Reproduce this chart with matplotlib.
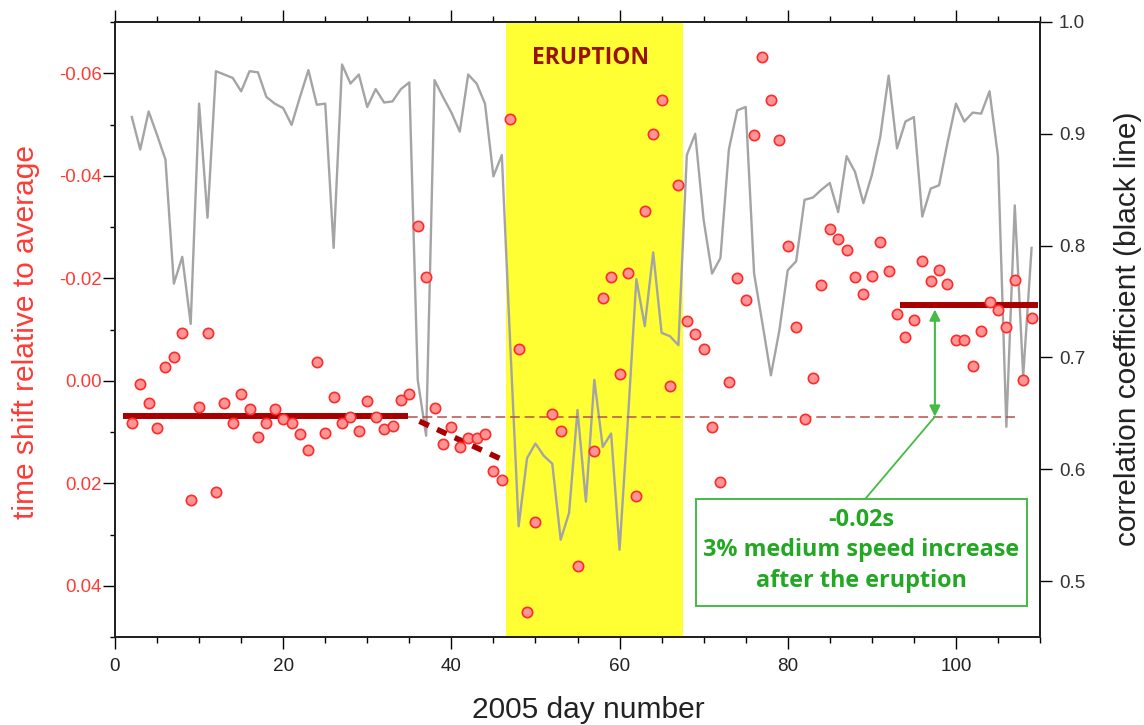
import numpy as np
import matplotlib
matplotlib.use("Agg")
import matplotlib.pyplot as plt
from matplotlib.patches import Rectangle
from matplotlib.ticker import MultipleLocator, FormatStrFormatter

plt.rcParams['font.family'] = ['Liberation Sans', 'DejaVu Sans']
plt.rcParams['axes.unicode_minus'] = False
plt.rcParams['lines.scale_dashes'] = False

# ---------------- data ----------------
days = list(range(2, 110))

corr = [0.915, 0.886, 0.920, 0.899, 0.877, 0.766, 0.790, 0.730, 0.927, 0.825,   # 2-11
        0.956, 0.953, 0.950, 0.938, 0.956, 0.955, 0.933, 0.927, 0.923, 0.908,   # 12-21
        0.933, 0.957, 0.926, 0.927, 0.798, 0.962, 0.945, 0.953, 0.924, 0.940,   # 22-31
        0.928, 0.929, 0.940, 0.946, 0.680, 0.630, 0.948, 0.933, 0.919, 0.902,   # 32-41
        0.953, 0.945, 0.927, 0.862, 0.881, 0.712, 0.549, 0.610, 0.623, 0.612,   # 42-51
        0.605, 0.537, 0.561, 0.653, 0.571, 0.680, 0.620, 0.632, 0.528, 0.645,   # 52-61
        0.770, 0.728, 0.794, 0.722, 0.719, 0.711, 0.881, 0.900, 0.823, 0.775,   # 62-71
        0.789, 0.886, 0.921, 0.924, 0.775, 0.730, 0.684, 0.724, 0.778, 0.786,   # 72-81
        0.841, 0.843, 0.850, 0.856, 0.830, 0.880, 0.866, 0.838, 0.863, 0.897,   # 82-91
        0.952, 0.887, 0.911, 0.915, 0.826, 0.851, 0.854, 0.892, 0.927, 0.911,   # 92-101
        0.919, 0.918, 0.938, 0.880, 0.638, 0.836, 0.683, 0.798]                 # 102-109

# time shift (s); None = no measurement that day
shift = [0.0082, 0.0007, 0.0044, 0.0092, -0.0027, -0.0046, -0.0094, 0.0233, 0.0051, -0.0093,   # 2-11
         0.0217, 0.0044, 0.0082, 0.0025, 0.0056, 0.0109, 0.0083, 0.0056, 0.0075, 0.0082,       # 12-21
         0.0104, 0.0135, -0.0037, 0.0101, 0.0031, 0.0083, 0.0070, 0.0098, 0.0039, 0.0070,      # 22-31
         0.0095, 0.0088, 0.0038, 0.0026, -0.0301, -0.0202, 0.0053, 0.0123, 0.0090, 0.0129,     # 32-41
         0.0111, 0.0112, 0.0104, 0.0176, 0.0194, -0.0511, -0.0062, 0.0452, 0.0275, None,       # 42-51
         0.0064, 0.0098, None, 0.0361, None, 0.0137, -0.0162, -0.0203, -0.0014, -0.0211,       # 52-61
         0.0224, -0.0331, -0.0481, -0.0548, 0.0010, -0.0382, -0.0117, -0.0091, -0.0061, 0.0091, # 62-71
         0.0197, 0.0003, -0.0200, -0.0158, -0.0480, -0.0632, -0.0548, -0.0470, -0.0263, -0.0105, # 72-81
         0.0074, -0.0005, -0.0187, -0.0297, -0.0277, -0.0256, -0.0203, -0.0169, -0.0204, -0.0271, # 82-91
         -0.0215, -0.0130, -0.0085, -0.0119, -0.0234, -0.0195, -0.0217, -0.0188, -0.0079, -0.0079, # 92-101
         -0.0029, -0.0097, -0.0154, -0.0138, -0.0104, -0.0197, -0.0001, -0.0122]                 # 102-109

pre_x = [0.9, 34.8]
pre_y = [0.0069, 0.0069]
decline_x = [36.2, 46.6]
decline_y = [0.0079, 0.0158]
post_x = [93.3, 109.8]
post_y = [-0.0147, -0.0147]
ref_x = [34.8, 107.0]
ref_y = [0.0070, 0.0070]
eruption = (46.45, 67.55)

x_ticks_major = 20
x_ticks_minor = 5

# ---------------- style ----------------
RED_TXT = '#ff3a33'
DARK_RED = '#a80000'
GREEN = '#22a822'
GREEN_BOX = '#44bb44'
GRAY = '#a4a4a4'

fig = plt.figure(figsize=(11.44, 7.25), dpi=100)
W, H = 1144, 725
L, R, T, B = 115, 1040, 22, 637
ax = fig.add_axes([L / W, (H - B) / H, (R - L) / W, (B - T) / H])
axt = ax.twinx()

# correlation axis (right) on the bottom layer
ax.axvspan(*eruption, color='#ffff33', zorder=0, lw=0)
ax.plot(days, corr, color=GRAY, lw=1.7, zorder=2)
ax.set_xlim(0, 110)
ax.set_ylim(0.45, 1.0)
ax.yaxis.tick_right()
ax.yaxis.set_label_position('right')
ax.yaxis.set_major_locator(MultipleLocator(0.1))
ax.yaxis.set_major_formatter(FormatStrFormatter('%.1f'))
ax.xaxis.set_major_locator(MultipleLocator(x_ticks_major))
ax.xaxis.set_minor_locator(MultipleLocator(x_ticks_minor))
ax.tick_params(axis='x', which='major', direction='out', length=8.6, width=1.0,
               top=True, bottom=True, labelsize=13.6, pad=6.5, labelcolor='#222222')
ax.tick_params(axis='x', which='minor', direction='out', length=4.3, width=1.0,
               top=True, bottom=True)
ax.tick_params(axis='y', which='major', direction='out', length=8.6, width=1.0,
               right=True, left=False, labelright=True, labelleft=False,
               labelsize=13.6, pad=5, labelcolor='#333333')

# time shift axis (left) on top
axt.yaxis.tick_left()
axt.yaxis.set_label_position('left')
axt.set_ylim(0.05, -0.07)
axt.yaxis.set_major_locator(MultipleLocator(0.02))
axt.yaxis.set_minor_locator(MultipleLocator(0.01))
axt.yaxis.set_major_formatter(FormatStrFormatter('%.2f'))
axt.tick_params(axis='y', which='major', direction='out', length=8.6, width=1.0,
                left=True, right=False, labelleft=True, labelright=False,
                labelsize=13.4, pad=1, labelcolor=RED_TXT)
axt.tick_params(axis='y', which='minor', direction='out', length=3.8, width=1.0,
                left=True, right=False)

for a in (ax, axt):
    for s in a.spines.values():
        s.set_linewidth(1.4)
        s.set_color('#222222')

axt.plot(ref_x, ref_y, color='#b8504a', lw=1.1, dashes=(7, 3.5), zorder=3)
axt.plot(pre_x, pre_y, color=DARK_RED, lw=4.3, solid_capstyle='butt', zorder=4)
axt.plot(decline_x, decline_y, color=DARK_RED, lw=4.0, dashes=(7.5, 6.5),
         dash_capstyle='butt', zorder=4)
axt.plot(post_x, post_y, color=DARK_RED, lw=4.3, solid_capstyle='butt', zorder=4)

sd = [d for d, v in zip(days, shift) if v is not None]
sv = [v for v in shift if v is not None]
axt.plot(sd, sv, ls='none', marker='o', ms=7.4, mfc='#ff9494', mec='#ff2a2a',
         mew=1.2, zorder=6)

# eruption label
axt.text(56.5, -0.0618, 'ERUPTION', ha='center', va='baseline', color='#991100',
         fontsize=16.5, fontweight='bold', family=['Open Sans', 'DejaVu Sans'], zorder=7)

# annotation
axt.annotate('', xy=(97.5, -0.0139), xytext=(97.5, 0.0070),
             arrowprops=dict(arrowstyle='<|-|>', color=GREEN_BOX, lw=1.5,
                             mutation_scale=16, shrinkA=0, shrinkB=0), zorder=7)
axt.plot([97.5, 89.18], [0.0070, 0.02313], color=GREEN_BOX, lw=1.3, zorder=7)
axt.add_patch(Rectangle((69.07, 0.02313), 39.33, 0.02082, facecolor='white',
                        edgecolor=GREEN_BOX, lw=1.4, zorder=8))
for ytxt, s in [(0.02834, '-0.02s'), (0.03429, '3% medium speed increase'),
                (0.04024, 'after the eruption')]:
    axt.text(88.75, ytxt, s, ha='center', va='baseline', color=GREEN,
             fontsize=16.8, fontweight='bold', family=['Open Sans', 'DejaVu Sans'], zorder=9)

# axis labels
fig.text((588) / W, (H - 717.7) / H, '2005 day number', ha='center', va='baseline',
         fontsize=21.5, color='#222222')
fig.text(25.7 / W, (H - 332) / H, 'time shift relative to average', rotation=90,
         ha='center', va='center', fontsize=21.5, color=RED_TXT)
fig.text(1128 / W, (H - 329) / H, 'correlation coefficient (black line)', rotation=90,
         ha='center', va='center', fontsize=21.5, color='#222222')

fig.savefig('out.png', dpi=100)
